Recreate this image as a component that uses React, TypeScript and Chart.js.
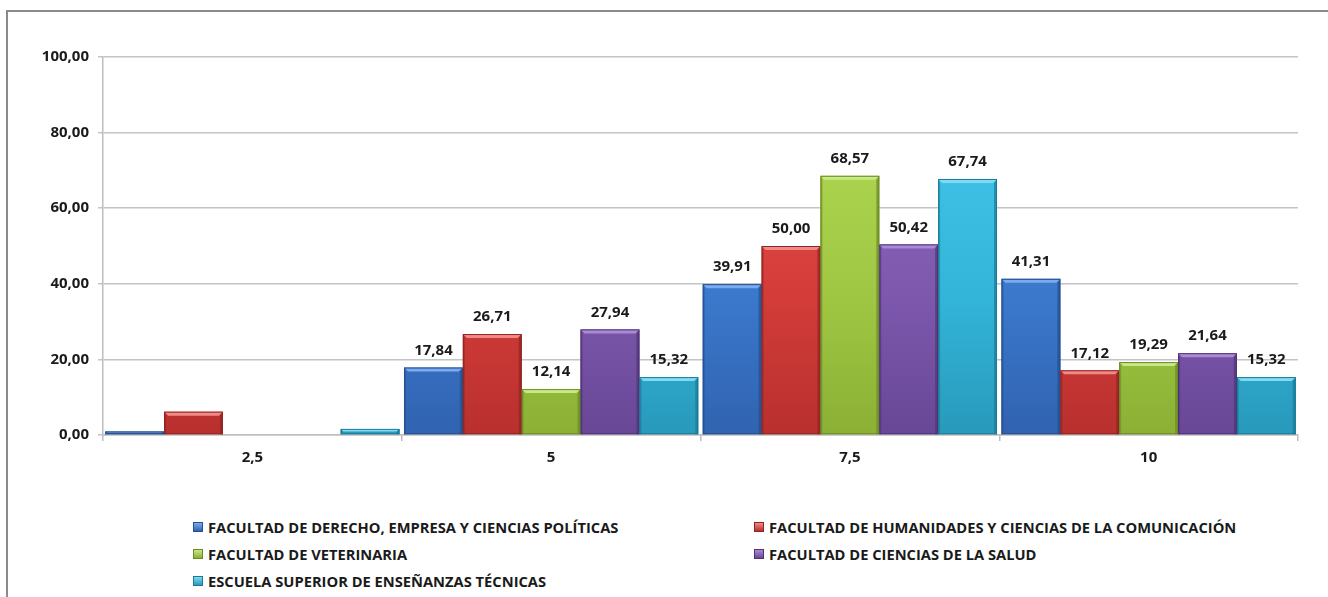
import React, { useEffect, useRef } from "react";
import { Chart, registerables } from "chart.js";

Chart.register(...registerables);

const categories = ["2,5", "5", "7,5", "10"];
const seriesNames = [
  "FACULTAD DE DERECHO, EMPRESA Y CIENCIAS POLÍTICAS",
  "FACULTAD DE HUMANIDADES Y CIENCIAS DE LA COMUNICACIÓN",
  "FACULTAD DE VETERINARIA",
  "FACULTAD DE CIENCIAS DE LA SALUD",
  "ESCUELA SUPERIOR DE ENSEÑANZAS TÉCNICAS",
];
const derecho = [0.94, 17.84, 39.91, 41.31];
const humanidades = [6.17, 26.71, 50.0, 17.12];
const veterinaria = [0, 12.14, 68.57, 19.29];
const salud = [0, 27.94, 50.42, 21.64];
const escuela = [1.62, 15.32, 67.74, 15.32];
const labelledCategories = [false, true, true, true];
const yTicks = [0, 20, 40, 60, 80, 100];

const seriesValues = [derecho, humanidades, veterinaria, salud, escuela];
const baseColors = ["#3b78cc", "#d33c39", "#a0c743", "#7d58ad", "#33b5d9"];
const topColors = ["#4489de", "#e04a47", "#acd44f", "#8964ba", "#3fc2e6"];
const bottomColors = ["#3063b0", "#b8302e", "#8bb035", "#684796", "#2899bb"];
const lightColors = ["#7aaaf0", "#f08a86", "#c9e886", "#aa8ad6", "#80daf2"];
const darkColors = ["#254f8c", "#8e2523", "#6a8a25", "#4f3473", "#1a7a96"];

const FONT = "'Open Sans', 'DejaVu Sans', sans-serif";
const fmt = (v: number) => v.toFixed(2).replace(".", ",");

const bevelPlugin = {
  id: "bevel",
  afterDatasetsDraw(chart: any) {
    const ctx = chart.ctx;
    chart.data.datasets.forEach((_ds: any, di: number) => {
      const meta = chart.getDatasetMeta(di);
      meta.data.forEach((bar: any) => {
        const h = bar.base - bar.y;
        if (h < 1) return;
        const w = bar.width;
        const l = bar.x - w / 2;
        const r = bar.x + w / 2;
        const t = bar.y;
        const b = bar.base;
        const bev = Math.min(4, h / 2);
        ctx.save();
        ctx.fillStyle = lightColors[di];
        ctx.beginPath();
        ctx.moveTo(l, t);
        ctx.lineTo(r, t);
        ctx.lineTo(r - bev, t + bev);
        ctx.lineTo(l + bev, t + bev);
        ctx.closePath();
        ctx.fill();
        ctx.globalAlpha = 0.5;
        ctx.fillStyle = darkColors[di];
        ctx.beginPath();
        ctx.moveTo(l, t);
        ctx.lineTo(l + 2, t + bev);
        ctx.lineTo(l + 2, b);
        ctx.lineTo(l, b);
        ctx.closePath();
        ctx.fill();
        ctx.globalAlpha = 0.7;
        ctx.beginPath();
        ctx.moveTo(r, t);
        ctx.lineTo(r - 3, t + bev);
        ctx.lineTo(r - 3, b);
        ctx.lineTo(r, b);
        ctx.closePath();
        ctx.fill();
        ctx.globalAlpha = 1;
        ctx.strokeStyle = darkColors[di];
        ctx.lineWidth = 1;
        ctx.strokeRect(l + 0.5, t + 0.5, w - 1, h - 1);
        ctx.restore();
      });
    });
  },
};

const labelPlugin = {
  id: "valueLabels",
  afterDatasetsDraw(chart: any) {
    const ctx = chart.ctx;
    ctx.save();
    ctx.font = `bold 15px ${FONT}`;
    ctx.fillStyle = "#1a1a1a";
    ctx.textAlign = "center";
    ctx.textBaseline = "middle";
    chart.data.datasets.forEach((ds: any, di: number) => {
      const meta = chart.getDatasetMeta(di);
      meta.data.forEach((bar: any, i: number) => {
        if (!labelledCategories[i]) return;
        ctx.fillText(fmt(ds.data[i]), bar.x, bar.y - 17);
      });
    });
    ctx.restore();
  },
};

export default function App() {
  const ref = useRef<HTMLCanvasElement>(null);
  useEffect(() => {
    document.body.style.margin = "0";
    const canvas = ref.current!;
    const chart = new Chart(canvas, {
      type: "bar",
      data: {
        labels: categories,
        datasets: seriesValues.map((vals, i) => ({
          label: seriesNames[i],
          data: vals,
          backgroundColor: (c: any) => {
            const area = c.chart.chartArea;
            if (!area) return baseColors[i];
            const g = c.chart.ctx.createLinearGradient(0, area.top + 100, 0, area.bottom);
            g.addColorStop(0, topColors[i]);
            g.addColorStop(0.5, baseColors[i]);
            g.addColorStop(1, bottomColors[i]);
            return g;
          },
          borderWidth: 0,
          categoryPercentage: 0.985,
          barPercentage: 1,
        })),
      },
      options: {
        responsive: false,
        animation: false,
        layout: { padding: { top: 57, right: 30, left: 0, bottom: 0 } },
        plugins: { legend: { display: false }, tooltip: { enabled: false } },
        scales: {
          x: {
            grid: {
              offset: true,
              drawOnChartArea: false,
              tickLength: 6,
              color: "#bdbdbd",
              lineWidth: 1.5,
            },
            border: { color: "#bdbdbd", width: 1.5 },
            ticks: {
              font: { family: FONT, weight: "bold", size: 15 },
              color: "#1a1a1a",
              padding: 8,
            },
            afterFit: (s: any) => {
              s.height = 55;
            },
          },
          y: {
            min: 0,
            max: 100,
            afterBuildTicks: (s: any) => {
              s.ticks = yTicks.map((v) => ({ value: v }));
            },
            grid: { color: "#c4c4c4", lineWidth: 1.5, tickLength: 5 },
            border: { color: "#bdbdbd", width: 1.5 },
            ticks: {
              font: { family: FONT, weight: "bold", size: 15 },
              color: "#1a1a1a",
              padding: 9,
              callback: (v: any) => fmt(Number(v)),
            },
            afterFit: (s: any) => {
              s.width = 103;
            },
          },
        },
      } as any,
      plugins: [bevelPlugin, labelPlugin],
    });
    return () => chart.destroy();
  }, []);

  const legendPos = [
    { x: 193, y: 527 },
    { x: 754, y: 527 },
    { x: 193, y: 554 },
    { x: 754, y: 554 },
    { x: 193, y: 581 },
  ];

  return (
    <div style={{ position: "relative", width: 1328, height: 597, overflow: "hidden", background: "#fff" }}>
      <div
        style={{
          position: "absolute",
          left: 6,
          top: 10,
          width: 1400,
          height: 700,
          border: "2px solid #8a8a8a",
          boxSizing: "border-box",
        }}
      />
      <canvas ref={ref} width={1328} height={490} style={{ position: "absolute", left: 0, top: 0 }} />
      {seriesNames.map((name, i) => (
        <div
          key={name}
          style={{
            position: "absolute",
            left: legendPos[i].x,
            top: legendPos[i].y - 11,
            height: 22,
            display: "flex",
            alignItems: "center",
            whiteSpace: "nowrap",
            fontFamily: FONT,
            fontWeight: 700,
            fontSize: 14.7,
            color: "#1a1a1a",
          }}
        >
          <span
            style={{
              display: "inline-block",
              width: 8,
              height: 8,
              marginRight: 5,
              background: `linear-gradient(${lightColors[i]}, ${bottomColors[i]})`,
              border: `0.5px solid ${darkColors[i]}`,
            }}
          />
          {name}
        </div>
      ))}
    </div>
  );
}
